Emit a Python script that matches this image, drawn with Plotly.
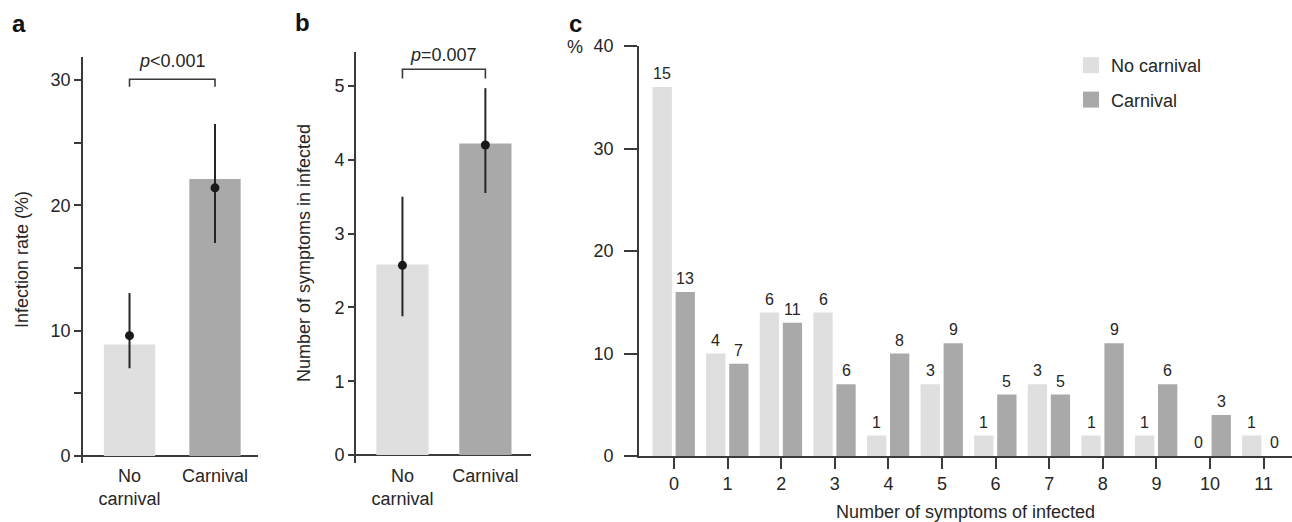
import plotly.graph_objects as go

W, H = 1292, 522

# ---------------- data ----------------
# Panel a: infection rate (%)
groups = ["No<br>carnival", "Carnival"]
group_pos = [0, 1]
infection_rate = [8.9, 22.1]
infection_point = [9.6, 21.4]
infection_lo = [7.0, 17.0]
infection_hi = [13.0, 26.5]
p_text_a = "<i>p</i>&lt;0.001"
bracket_a = [29.47, 30.06]

# Panel b: number of symptoms in infected
symptoms_mean = [2.58, 4.22]
symptoms_point = [2.57, 4.20]
symptoms_lo = [1.88, 3.55]
symptoms_hi = [3.50, 4.97]
p_text_b = "<i>p</i>=0.007"
bracket_b = [5.10, 5.226]

# Panel c: distribution of number of symptoms
n_symptoms = list(range(12))
pct_no_carnival = [36, 10, 14, 14, 2, 7, 2, 7, 2, 2, 0, 2]
pct_carnival = [16, 9, 13, 7, 10, 11, 6, 6, 11, 7, 4, 0]
cnt_no_carnival = [15, 4, 6, 6, 1, 3, 1, 3, 1, 1, 0, 1]
cnt_carnival = [13, 7, 11, 6, 8, 9, 5, 5, 9, 6, 3, 0]

# ---------------- style ----------------
FONT = "Liberation Sans, Arial, Helvetica, sans-serif"
TXT = "#262626"
LINE = "#3a3a3a"
LIGHT = "#dfdfdf"
DARK = "#a9a9a9"
FS = 18

def px_x(p):
    return p / W

def px_y(p):
    return 1 - p / H

fig = go.Figure()

# Panel a
fig.add_trace(go.Bar(x=group_pos, y=infection_rate, width=0.6,
                     marker=dict(color=[LIGHT, DARK], line=dict(width=0)),
                     xaxis="x", yaxis="y", showlegend=False, hoverinfo="skip"))
fig.add_trace(go.Scatter(x=group_pos, y=infection_point, mode="markers",
                         marker=dict(size=9, color="#1a1a1a"),
                         error_y=dict(type="data", symmetric=False,
                                      array=[h - p for h, p in zip(infection_hi, infection_point)],
                                      arrayminus=[p - l for l, p in zip(infection_lo, infection_point)],
                                      width=0, thickness=2, color="#262626"),
                         xaxis="x", yaxis="y", showlegend=False, hoverinfo="skip"))
fig.add_trace(go.Scatter(x=[group_pos[0], group_pos[0], group_pos[1], group_pos[1]],
                         y=[bracket_a[0], bracket_a[1], bracket_a[1], bracket_a[0]],
                         mode="lines", line=dict(color=LINE, width=1.6),
                         xaxis="x", yaxis="y", showlegend=False, hoverinfo="skip"))

# Panel b
fig.add_trace(go.Bar(x=group_pos, y=symptoms_mean, width=0.63,
                     marker=dict(color=[LIGHT, DARK], line=dict(width=0)),
                     xaxis="x2", yaxis="y2", showlegend=False, hoverinfo="skip"))
fig.add_trace(go.Scatter(x=group_pos, y=symptoms_point, mode="markers",
                         marker=dict(size=9, color="#1a1a1a"),
                         error_y=dict(type="data", symmetric=False,
                                      array=[h - p for h, p in zip(symptoms_hi, symptoms_point)],
                                      arrayminus=[p - l for l, p in zip(symptoms_lo, symptoms_point)],
                                      width=0, thickness=2, color="#262626"),
                         xaxis="x2", yaxis="y2", showlegend=False, hoverinfo="skip"))
fig.add_trace(go.Scatter(x=[group_pos[0], group_pos[0], group_pos[1], group_pos[1]],
                         y=[bracket_b[0], bracket_b[1], bracket_b[1], bracket_b[0]],
                         mode="lines", line=dict(color=LINE, width=1.6),
                         xaxis="x2", yaxis="y2", showlegend=False, hoverinfo="skip"))

# Panel c
BW = 0.36
OFF_NC = -0.40
OFF_C = 0.03
fig.add_trace(go.Bar(x=n_symptoms, y=pct_no_carnival, width=BW, offset=OFF_NC,
                     marker=dict(color=LIGHT, line=dict(width=0)), name="No carnival",
                     xaxis="x3", yaxis="y3", showlegend=False, hoverinfo="skip"))
fig.add_trace(go.Bar(x=n_symptoms, y=pct_carnival, width=BW, offset=OFF_C,
                     marker=dict(color=DARK, line=dict(width=0)), name="Carnival",
                     xaxis="x3", yaxis="y3", showlegend=False, hoverinfo="skip"))
# legend entries (square swatches)
fig.add_trace(go.Scatter(x=[None], y=[None], mode="markers", name="No carnival",
                         marker=dict(symbol="square", size=16, color=LIGHT),
                         xaxis="x3", yaxis="y3", legendgroup="nc"))
fig.add_trace(go.Scatter(x=[None], y=[None], mode="markers", name="Carnival",
                         marker=dict(symbol="square", size=16, color=DARK),
                         xaxis="x3", yaxis="y3", legendgroup="c"))

annotations = []
for k, v, c in zip(n_symptoms, pct_no_carnival, cnt_no_carnival):
    annotations.append(dict(x=k + OFF_NC + BW / 2, y=v, xref="x3", yref="y3",
                            text=str(c), showarrow=False, xanchor="center",
                            yanchor="bottom", yshift=3,
                            font=dict(size=16, color=TXT, family=FONT)))
for k, v, c in zip(n_symptoms, pct_carnival, cnt_carnival):
    annotations.append(dict(x=k + OFF_C + BW / 2, y=v, xref="x3", yref="y3",
                            text=str(c), showarrow=False, xanchor="center",
                            yanchor="bottom", yshift=3,
                            font=dict(size=16, color=TXT, family=FONT)))

# p-values
annotations.append(dict(x=0.5, y=31.5, xref="x", yref="y", text=p_text_a, showarrow=False,
                        xanchor="center", yanchor="middle",
                        font=dict(size=FS, color=TXT, family=FONT)))
annotations.append(dict(x=0.5, y=5.42, xref="x2", yref="y2", text=p_text_b, showarrow=False,
                        xanchor="center", yanchor="middle",
                        font=dict(size=FS, color=TXT, family=FONT)))

def paper_text(text, cx, cy, size=FS, angle=0, color=TXT):
    return dict(x=px_x(cx), y=px_y(cy), xref="paper", yref="paper",
                text=text, textangle=angle, showarrow=False,
                xanchor="center", yanchor="middle",
                font=dict(size=size, color=color, family=FONT))

# axis titles
annotations.append(paper_text("Infection rate (%)", 22, 260, angle=-90))
annotations.append(paper_text("Number of symptoms in infected", 304, 253, angle=-90))
annotations.append(paper_text("Number of symptoms of infected", 965, 512))
annotations.append(paper_text("%", 575, 47))

# panel letters
for letter, cx, cy in [("a", 19, 24), ("b", 302, 22), ("c", 575, 24)]:
    annotations.append(paper_text("<b>%s</b>" % letter, cx, cy, size=24, color="#111111"))

axis_common = dict(showgrid=False, zeroline=False, showline=True, linecolor=LINE,
                   linewidth=1.6, tickcolor=LINE, tickwidth=1.6,
                   tickfont=dict(size=FS, color=TXT, family=FONT), automargin=False)

fig.update_layout(
    width=W, height=H,
    margin=dict(l=0, r=0, t=0, b=0),
    paper_bgcolor="white", plot_bgcolor="white",
    font=dict(family=FONT, color=TXT, size=FS),
    barmode="overlay",
    annotations=annotations,
    legend=dict(x=px_x(1071), y=px_y(47), xanchor="left", yanchor="top",
                font=dict(size=FS, color=TXT, family=FONT),
                bgcolor="rgba(0,0,0,0)", tracegroupgap=8, traceorder="grouped"),
    # panel a
    xaxis=dict(domain=[px_x(83), px_x(258)], range=[-0.544, 1.503], anchor="y",
               tickmode="array", tickvals=group_pos, ticktext=groups,
               ticks="", **{k: v for k, v in axis_common.items() if k != "showline"},
               showline=False),
    yaxis=dict(domain=[px_y(463), px_y(57)], range=[-0.56, 31.84], anchor="x",
               tickmode="array", tickvals=[0, 5, 10, 15, 20, 25, 30],
               ticktext=["0", "", "10", "", "20", "", "30"],
               ticks="outside", ticklen=7, **{k: v for k, v in axis_common.items() if k != "zeroline"},
               zeroline=True, zerolinecolor=LINE, zerolinewidth=1.6),
    # panel b
    xaxis2=dict(domain=[px_x(356), px_x(531)], range=[-0.56, 1.55], anchor="y2",
                tickmode="array", tickvals=group_pos, ticktext=groups,
                ticks="", **{k: v for k, v in axis_common.items() if k != "showline"},
                showline=False),
    yaxis2=dict(domain=[px_y(463), px_y(52)], range=[-0.108, 5.46], anchor="x2",
                tickmode="array", tickvals=[0, 1, 2, 3, 4, 5],
                ticks="outside", ticklen=6, **{k: v for k, v in axis_common.items() if k != "zeroline"},
                zeroline=True, zerolinecolor=LINE, zerolinewidth=1.6),
    # panel c
    xaxis3=dict(domain=[px_x(639), 1.0], range=[-0.653, 11.53], anchor="y3",
                tickmode="array", tickvals=n_symptoms,
                ticks="outside", ticklen=11, **axis_common),
    yaxis3=dict(domain=[px_y(456), px_y(46)], range=[0, 40], anchor="x3",
                tickmode="array", tickvals=[0, 10, 20, 30, 40],
                ticks="outside", ticklen=13, ticklabelstandoff=7, **axis_common),
)

fig.write_html("out.html")
